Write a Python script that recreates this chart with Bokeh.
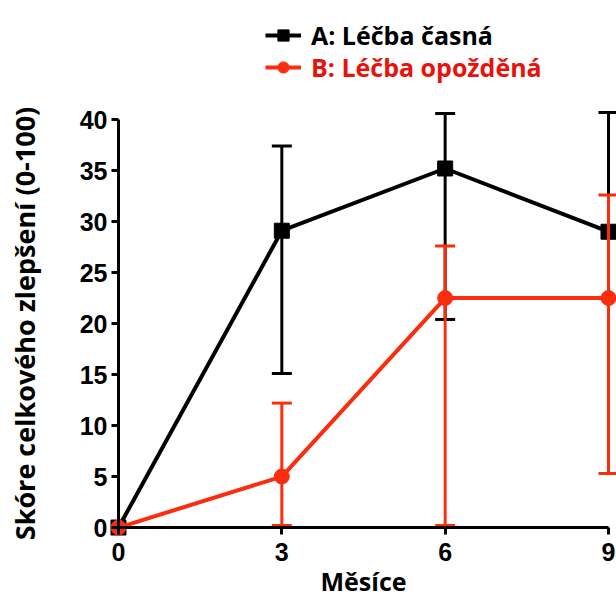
from bokeh.plotting import figure
from bokeh.models import Range1d, FixedTicker, Legend, LegendItem
from bokeh.embed import file_html
from bokeh.resources import INLINE

# ---- data ----
months = [0, 3, 6, 9]
a_mean = [0.0, 29.1, 35.2, 29.0]
a_lower = [0.0, 15.1, 20.4, 22.5]
a_upper = [0.0, 37.4, 40.6, 40.7]
b_mean = [0.0, 5.0, 22.5, 22.5]
b_lower = [0.0, 0.2, 0.2, 5.3]
b_upper = [0.0, 12.2, 27.6, 32.6]
x_ticks = [0, 3, 6, 9]
y_ticks = [0, 5, 10, 15, 20, 25, 30, 35, 40]
label_a = "A: Léčba časná"
label_b = "B: Léčba opožděná"
x_title = "Měsíce"
y_title = "Skóre celkového zlepšení (0-100)"

BLACK = "#000000"
RED = "#FA2D0F"
RED_TEXT = "#E8120C"

p = figure(width=616, height=596, output_backend="svg", toolbar_location=None,
           x_range=Range1d(-2.167, 9.147), y_range=Range1d(-6.76, 51.67),
           min_border_left=0, min_border_right=0, min_border_top=0,
           min_border_bottom=0)
p.grid.visible = False
p.outline_line_color = None
p.background_fill_color = "white"

# ---- series A ----
la = p.line(months, a_mean, line_color=BLACK, line_width=4)
p.segment(x0=months[1:], y0=a_lower[1:], x1=months[1:], y1=a_upper[1:],
          line_color=BLACK, line_width=3)
p.scatter(months[1:] + months[1:], a_lower[1:] + a_upper[1:], marker="dash",
          size=20, line_color=BLACK, line_width=3)
sa = p.scatter(months, a_mean, marker="square", size=15, fill_color=BLACK,
               line_color=BLACK)

# ---- series B ----
lb = p.line(months, b_mean, line_color=RED, line_width=4)
p.segment(x0=months[1:], y0=b_lower[1:], x1=months[1:], y1=b_upper[1:],
          line_color=RED, line_width=3)
p.scatter(months[1:] + months[1:], b_lower[1:] + b_upper[1:], marker="dash",
          size=20, line_color=RED, line_width=3)
sb = p.scatter(months, b_mean, marker="circle", size=15, fill_color=RED,
               line_color=RED)

# ---- axes ----
for ax in (p.xaxis[0], p.yaxis[0]):
    ax.fixed_location = 0
    ax.axis_line_width = 3
    ax.major_tick_line_width = 3
    ax.major_tick_out = 7
    ax.major_tick_in = 0
    ax.minor_tick_out = 0
    ax.minor_tick_in = 0
    ax.major_label_text_font = "Liberation Sans"
    ax.major_label_text_font_style = "bold"
    ax.major_label_text_font_size = "25px"
    ax.major_label_text_color = BLACK
    ax.axis_label_text_font = "Open Sans"
    ax.axis_label_text_font_style = "bold"
    ax.axis_label_text_color = BLACK

p.xaxis[0].ticker = FixedTicker(ticks=x_ticks)
p.yaxis[0].ticker = FixedTicker(ticks=y_ticks)
p.xaxis[0].bounds = (0, 9)
p.yaxis[0].bounds = (0, 40)
p.xaxis[0].axis_label = x_title
p.yaxis[0].axis_label = y_title
p.xaxis[0].axis_label_text_font_size = "25px"
p.yaxis[0].axis_label_text_font_size = "27px"
p.xaxis[0].major_label_standoff = 8
p.yaxis[0].major_label_standoff = 4
p.xaxis[0].axis_label_standoff = 0
p.yaxis[0].axis_label_standoff = 34

# ---- legends ----
def make_legend(label, rends, color, loc):
    lg = Legend(items=[LegendItem(label=label, renderers=rends)], location=loc,
                orientation="vertical", padding=0, margin=0, spacing=0,
                glyph_width=36, glyph_height=28, label_height=28,
                label_standoff=10, border_line_alpha=0, background_fill_alpha=0,
                label_text_font="Open Sans", label_text_font_style="bold",
                label_text_font_size="25px", label_text_color=color)
    return lg

p.add_layout(make_legend(label_a, [la, sa], BLACK, (265, 544)))
p.add_layout(make_legend(label_b, [lb, sb], RED_TEXT, (265, 512)))

open("out.html", "w").write(file_html(p, INLINE))
